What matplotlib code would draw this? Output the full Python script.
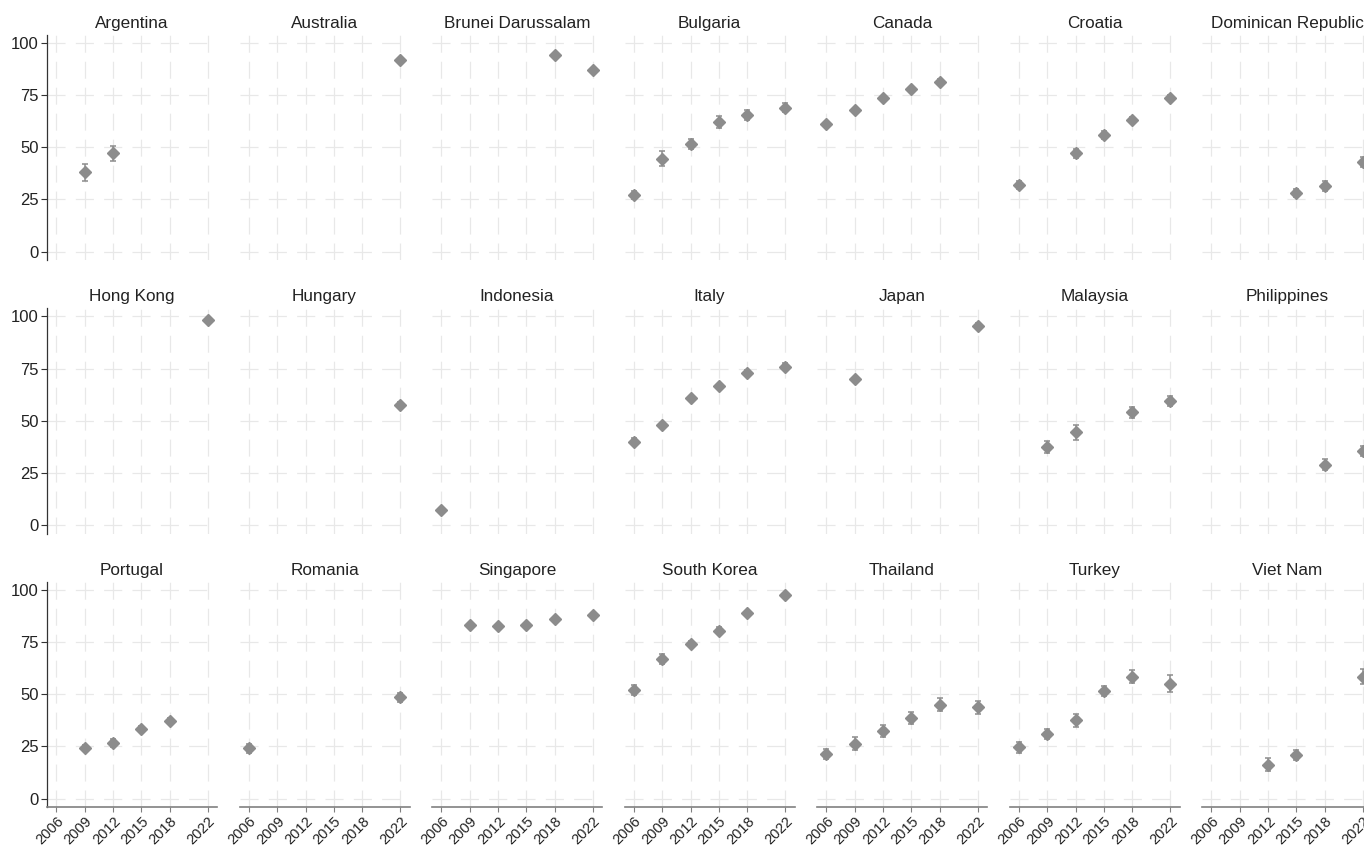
import matplotlib
matplotlib.use("Agg")
import matplotlib.pyplot as plt

plt.rcParams['font.family'] = ['Liberation Sans', 'DejaVu Sans']
plt.rcParams['lines.scale_dashes'] = False

## data ##
countries = ["Argentina", "Australia", "Brunei Darussalam", "Bulgaria", "Canada", "Croatia",
             "Dominican Republic", "Hong Kong", "Hungary", "Indonesia", "Italy", "Japan",
             "Malaysia", "Philippines", "Portugal", "Romania", "Singapore", "South Korea",
             "Thailand", "Turkey", "Viet Nam"]

years = {
    "Argentina": [2009, 2012],
    "Australia": [2022],
    "Brunei Darussalam": [2018, 2022],
    "Bulgaria": [2006, 2009, 2012, 2015, 2018, 2022],
    "Canada": [2006, 2009, 2012, 2015, 2018],
    "Croatia": [2006, 2012, 2015, 2018, 2022],
    "Dominican Republic": [2015, 2018, 2022],
    "Hong Kong": [2022],
    "Hungary": [2022],
    "Indonesia": [2006],
    "Italy": [2006, 2009, 2012, 2015, 2018, 2022],
    "Japan": [2009, 2022],
    "Malaysia": [2009, 2012, 2018, 2022],
    "Philippines": [2018, 2022],
    "Portugal": [2009, 2012, 2015, 2018],
    "Romania": [2006, 2022],
    "Singapore": [2009, 2012, 2015, 2018, 2022],
    "South Korea": [2006, 2009, 2012, 2015, 2018, 2022],
    "Thailand": [2006, 2009, 2012, 2015, 2018, 2022],
    "Turkey": [2006, 2009, 2012, 2015, 2018, 2022],
    "Viet Nam": [2012, 2015, 2022],
}

values = {
    "Argentina": [38, 47],
    "Australia": [92],
    "Brunei Darussalam": [94, 87],
    "Bulgaria": [27, 44.5, 51.5, 62, 65.5, 69],
    "Canada": [61, 68, 73.5, 78, 81.5],
    "Croatia": [32, 47, 56, 63, 73.5],
    "Dominican Republic": [28, 31.5, 43],
    "Hong Kong": [98.5],
    "Hungary": [57.5],
    "Indonesia": [7],
    "Italy": [40, 48, 61, 66.5, 73, 76],
    "Japan": [70, 95.5],
    "Malaysia": [37.5, 44.5, 54, 59.5],
    "Philippines": [29, 35.5],
    "Portugal": [24.3, 26.6, 33.3, 37.2],
    "Romania": [24, 48.5],
    "Singapore": [83, 82.5, 83, 86, 88],
    "South Korea": [52, 67, 74, 80.5, 89, 97.5],
    "Thailand": [21.4, 26.3, 32.4, 38.6, 45, 43.7],
    "Turkey": [24.5, 31, 37.5, 51.5, 58.5, 55],
    "Viet Nam": [16.3, 21, 58.4],
}

errors = {
    "Argentina": [4, 3.5],
    "Australia": [1],
    "Brunei Darussalam": [1, 1],
    "Bulgaria": [2, 3.5, 2.5, 3, 2.5, 2],
    "Canada": [1, 1, 1, 1, 1],
    "Croatia": [2, 2, 2, 1.5, 1.5],
    "Dominican Republic": [2, 2.5, 2.5],
    "Hong Kong": [0.8],
    "Hungary": [1.5],
    "Indonesia": [1],
    "Italy": [1.5, 1, 1, 1.2, 1.2, 1.5],
    "Japan": [1, 1.2],
    "Malaysia": [3, 3.5, 2.5, 2.5],
    "Philippines": [2.5, 2.5],
    "Portugal": [1.2, 2, 1.5, 1.5],
    "Romania": [2, 2],
    "Singapore": [1, 1, 1, 1, 1],
    "South Korea": [2.5, 2.5, 1.5, 1.5, 1, 1],
    "Thailand": [2.5, 3, 3, 3, 3, 3],
    "Turkey": [2.5, 2.5, 3, 2.5, 3, 4],
    "Viet Nam": [3, 2.5, 3.5],
}

xticks = [2006, 2009, 2012, 2015, 2018, 2022]
yticks = [0, 25, 50, 75, 100]

## layout in pixels ##
W, H = 1364, 846
NCOL = 7
left0, colstep, axw = 47, 192.5, 170
top0, rowstep, axh = 34.6, 273.5, 225.7

fig = plt.figure(figsize=(W / 100, H / 100), dpi=100)

mcol = '#8c8c8c'
gridcol = '#e8e8e8'

for i, c in enumerate(countries):
    r, col = divmod(i, NCOL)
    lx = left0 + col * colstep
    ty = top0 + r * rowstep
    ax = fig.add_axes([lx / W, 1 - (ty + axh) / H, axw / W, axh / H])

    ax.errorbar(years[c], values[c], yerr=errors[c], fmt='D', color=mcol,
                markersize=6, elinewidth=1.1, capsize=2.4, capthick=1.1, zorder=3)

    ax.set_xlim(2005, 2023)
    ax.set_ylim(-4.2, 104)
    ax.set_xticks(xticks)
    ax.set_yticks(yticks)

    ax.grid(axis='x', color=gridcol, linewidth=0.9, linestyle=(0, (12.2, 6.5)))
    ax.grid(axis='y', color=gridcol, linewidth=0.9, linestyle=(0, (13, 7.4)))
    ax.set_axisbelow(True)

    for s in ['top', 'right']:
        ax.spines[s].set_visible(False)
    ax.spines['left'].set_color('#333333')
    ax.spines['left'].set_linewidth(0.9)
    ax.spines['bottom'].set_color('#808080')
    ax.spines['bottom'].set_linewidth(1.2)

    ax.set_title(c, fontsize=12.3, color='#222222', pad=5)

    if col == 0:
        ax.tick_params(axis='y', length=4, width=0.8, color='#333333',
                       labelsize=12, labelcolor='#222222', pad=2)
    else:
        ax.spines['left'].set_visible(False)
        ax.tick_params(axis='y', left=False, labelleft=False)

    if r == 2:
        ax.tick_params(axis='x', length=3.5, width=0.8, color='#808080',
                       labelsize=10.5, labelcolor='#222222', pad=1.5)
        for lab in ax.get_xticklabels():
            lab.set_rotation(45)
            lab.set_ha('right')
            lab.set_rotation_mode('anchor')
    else:
        ax.spines['bottom'].set_visible(False)
        ax.tick_params(axis='x', bottom=False, labelbottom=False)

fig.savefig("out.png", dpi=100, facecolor='white')
